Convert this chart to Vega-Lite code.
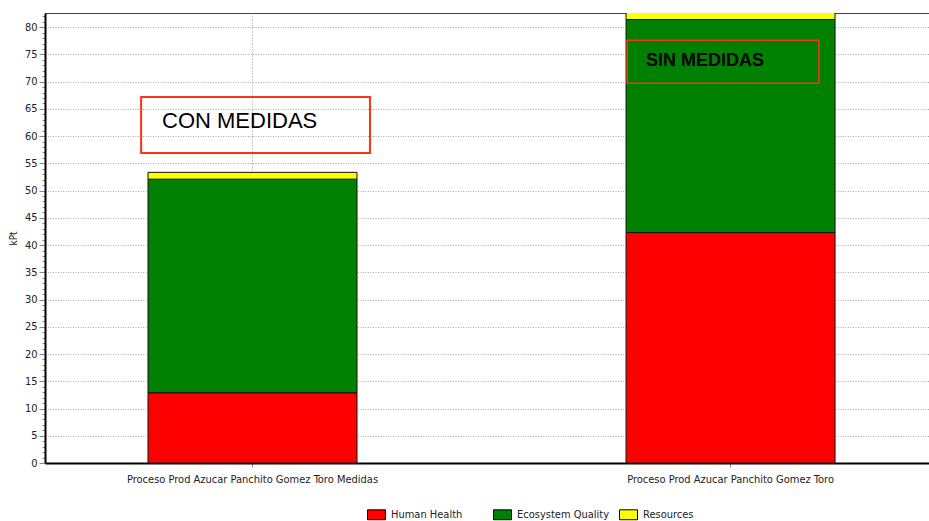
{
  "$schema": "https://vega.github.io/schema/vega-lite/v6.json",
  "width": 884,
  "height": 450,
  "autosize": {"type": "none"},
  "padding": {"left": 45, "top": 13, "right": 0, "bottom": 58},
  "background": "white",
  "config": {
    "view": {"stroke": "#444", "strokeWidth": 1},
    "font": "Liberation Sans Narrow, DejaVu Sans Condensed, sans-serif"
  },
  "datasets": {
    "impacts": [
      {"cat": "Proceso Prod Azucar Panchito Gomez Toro Medidas", "series": "Human Health", "ord": 1, "value": 12.9},
      {"cat": "Proceso Prod Azucar Panchito Gomez Toro Medidas", "series": "Ecosystem Quality", "ord": 2, "value": 39.2},
      {"cat": "Proceso Prod Azucar Panchito Gomez Toro Medidas", "series": "Resources", "ord": 3, "value": 1.25},
      {"cat": "Proceso Prod Azucar Panchito Gomez Toro", "series": "Human Health", "ord": 1, "value": 42.3},
      {"cat": "Proceso Prod Azucar Panchito Gomez Toro", "series": "Ecosystem Quality", "ord": 2, "value": 39.1},
      {"cat": "Proceso Prod Azucar Panchito Gomez Toro", "series": "Resources", "ord": 3, "value": 1.3}
    ],
    "notes": [
      {"cat": "Proceso Prod Azucar Panchito Gomez Toro Medidas", "label": "CON MEDIDAS", "lo": 56.9, "hi": 67.2, "ty": 62.8},
      {"cat": "Proceso Prod Azucar Panchito Gomez Toro", "label": "SIN MEDIDAS", "lo": 69.7, "hi": 77.6, "ty": 73.7}
    ]
  },
  "layer": [
    {
      "data": {"name": "impacts"},
      "mark": {"type": "bar", "stroke": "#111", "strokeWidth": 1, "clip": true},
      "encoding": {
        "x": {
          "field": "cat", "type": "nominal", "sort": null, "title": null,
          "scale": {"paddingInner": 0.5628, "paddingOuter": 0.206, "align": 0.523},
          "axis": {
            "labelAngle": 0, "labelFontSize": 11, "labelColor": "#222", "labelPadding": 6, "labelLimit": 0,
            "domainColor": "#000", "domainWidth": 2,
            "tickColor": "#888", "tickSize": 4,
            "grid": true, "gridColor": "#999", "gridDash": [1, 2], "gridWidth": 1
          }
        },
        "y": {
          "aggregate": "sum", "field": "value", "type": "quantitative", "stack": "zero", "title": "kPt",
          "scale": {"domain": [0, 82.6], "nice": false, "zero": true},
          "axis": {
            "values": [0,1,2,3,4,5,6,7,8,9,10,11,12,13,14,15,16,17,18,19,20,21,22,23,24,25,26,27,28,29,30,31,32,33,34,35,36,37,38,39,40,41,42,43,44,45,46,47,48,49,50,51,52,53,54,55,56,57,58,59,60,61,62,63,64,65,66,67,68,69,70,71,72,73,74,75,76,77,78,79,80,81,82],
            "tickCount": 200,
            "format": "d",
            "labelExpr": "datum.value % 5 === 0 ? datum.label : ''",
            "labelOverlap": false,
            "labelFontSize": 11, "labelColor": "#222", "labelPadding": 2,
            "domainColor": "#000", "domainWidth": 2,
            "tickColor": "#888",
            "tickSize": {"condition": {"test": "datum.value % 5 === 0", "value": 6}, "value": 3},
            "grid": true, "gridColor": "#aaa", "gridDash": [1, 1.5],
            "gridOpacity": {"condition": {"test": "datum.value % 5 === 0", "value": 1}, "value": 0},
            "titleFontSize": 10, "titleFontWeight": "normal", "titleColor": "#222", "titlePadding": 6
          }
        },
        "color": {
          "field": "series", "type": "nominal",
          "scale": {"domain": ["Human Health", "Ecosystem Quality", "Resources"], "range": ["#FF0000", "#008000", "#FFFF00"]},
          "legend": {
            "title": null, "orient": "none", "legendX": 322, "legendY": 492,
            "direction": "horizontal", "columns": 3, "gridAlign": "all", "columnPadding": 7,
            "symbolType": "M-1,-0.55H1V0.55H-1Z", "symbolSize": 324,
            "symbolStrokeColor": "#000", "symbolStrokeWidth": 1, "symbolOpacity": 1,
            "labelFontSize": 11, "labelColor": "#222", "labelOffset": 5
          }
        },
        "order": {"field": "ord", "type": "quantitative"}
      }
    },
    {
      "data": {"name": "notes"},
      "transform": [{"filter": "datum.label === 'CON MEDIDAS'"}],
      "mark": {"type": "rect", "fill": null, "fillOpacity": 0, "stroke": "#FF3310", "strokeWidth": 2},
      "encoding": {
        "x": {"field": "cat", "type": "nominal", "sort": null, "bandPosition": -0.033},
        "x2": {"field": "cat", "bandPosition": 1.062},
        "y": {"field": "lo", "type": "quantitative", "title": "kPt"},
        "y2": {"field": "hi"}
      }
    },
    {
      "data": {"name": "notes"},
      "transform": [{"filter": "datum.label === 'SIN MEDIDAS'"}],
      "mark": {"type": "rect", "fill": null, "fillOpacity": 0, "stroke": "#FF3310", "strokeWidth": 1.5},
      "encoding": {
        "x": {"field": "cat", "type": "nominal", "sort": null, "bandPosition": 0.005},
        "x2": {"field": "cat", "bandPosition": 0.923},
        "y": {"field": "lo", "type": "quantitative", "title": "kPt"},
        "y2": {"field": "hi"}
      }
    },
    {
      "data": {"name": "notes"},
      "transform": [{"filter": "datum.label === 'CON MEDIDAS'"}],
      "mark": {"type": "text", "align": "left", "baseline": "middle", "font": "Liberation Sans, Arial, sans-serif", "fontSize": 22, "color": "#000"},
      "encoding": {
        "x": {"field": "cat", "type": "nominal", "sort": null, "bandPosition": 0.067},
        "y": {"field": "ty", "type": "quantitative", "title": "kPt"},
        "text": {"field": "label"}
      }
    },
    {
      "data": {"name": "notes"},
      "transform": [{"filter": "datum.label === 'SIN MEDIDAS'"}],
      "mark": {"type": "text", "align": "left", "baseline": "middle", "font": "Liberation Sans, Arial, sans-serif", "fontSize": 18, "fontWeight": "bold", "color": "#000"},
      "encoding": {
        "x": {"field": "cat", "type": "nominal", "sort": null, "bandPosition": 0.096},
        "y": {"field": "ty", "type": "quantitative", "title": "kPt"},
        "text": {"field": "label"}
      }
    }
  ]
}
